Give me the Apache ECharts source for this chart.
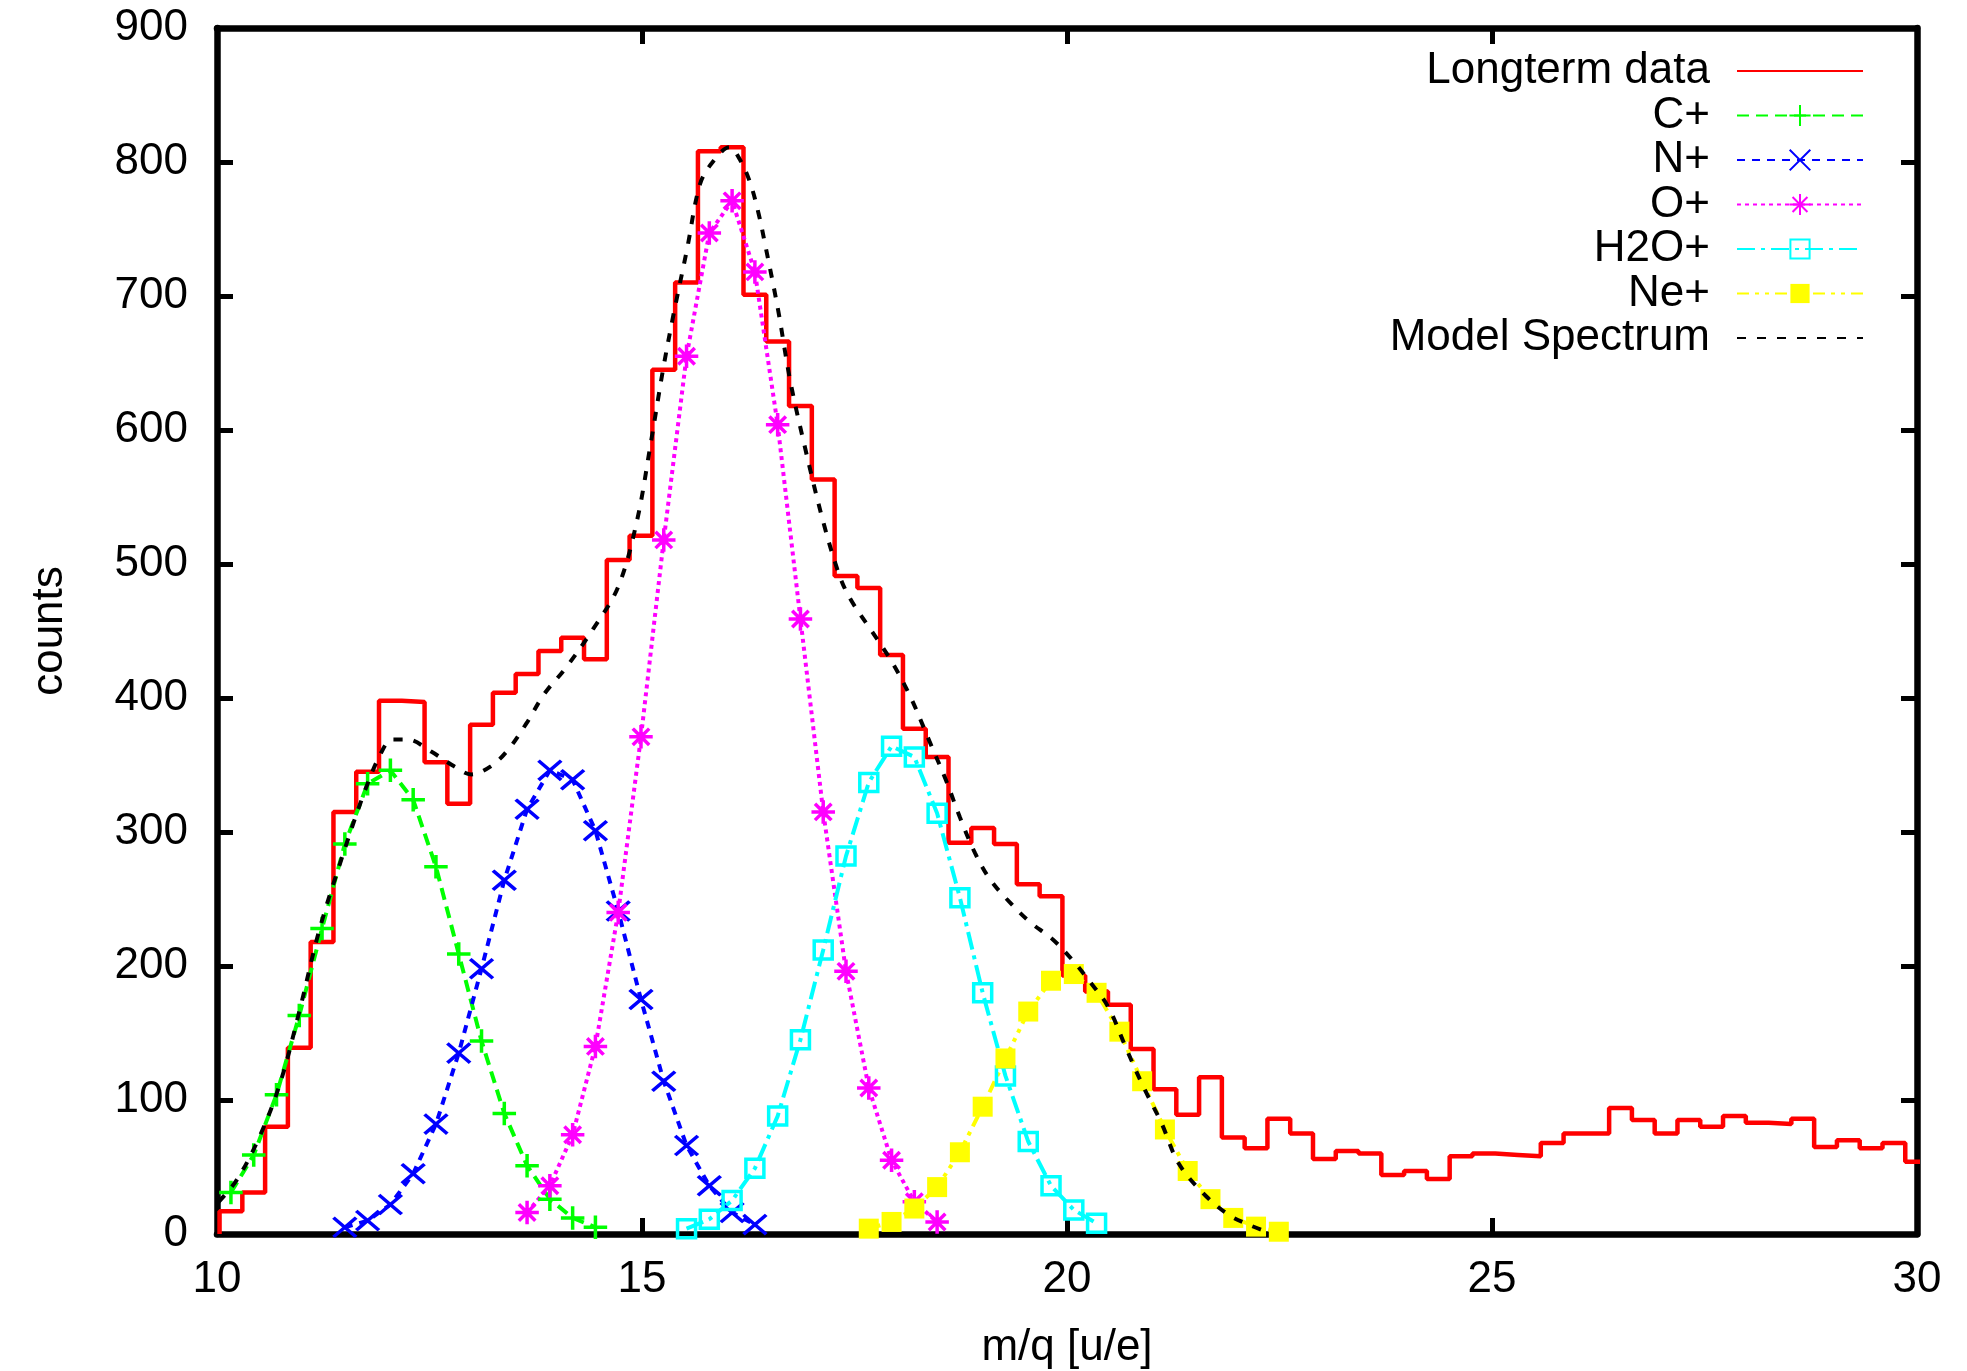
<!DOCTYPE html>
<html>
<head>
<meta charset="utf-8">
<script src="https://cdn.jsdelivr.net/npm/echarts@6/dist/echarts.min.js"></script>
<style>
html,body{margin:0;padding:0;background:#fff;}
#chart{width:1967px;height:1371px;}
</style>
</head>
<body>
<div id="chart"></div>
<script>
// ---- data ----
const binStart = 10.03;   // left edge of first histogram bin (m/q)
const binWidth = 0.268;   // histogram bin width (m/q)

const longterm = [17, 31, 80, 139, 218, 315, 345, 398, 397, 352,
  321, 380, 404, 418, 435, 445, 429, 503, 521, 645,
  710, 808, 811, 701, 666, 618, 563, 491, 482, 432,
  377, 356, 292, 303, 291, 261, 252, 193, 181, 171,
  138, 108, 89, 117, 72, 64, 86, 75, 56, 62,
  60, 44, 47, 41, 58, 60, 59, 58, 68, 75,
  75, 94, 85, 75, 85, 80, 88, 83, 82, 86,
  65, 70, 64, 68, 54];

const cPlusFirstBin = 0;
const cPlus = [31, 59, 104, 163, 228, 291, 336, 346, 324, 274, 209, 144, 90, 51, 26, 12, 5];

const nPlusFirstBin = 5;
const nPlus = [5, 10, 22, 45, 82, 135, 198, 264, 317, 346, 339, 301, 241, 175, 114, 66, 36, 16, 7];

const oPlusFirstBin = 13;
const oPlus = [16, 36, 74, 140, 240, 371, 518, 655, 747, 771, 718, 604, 459, 315, 196, 109, 55, 24, 9];

const h2oPlusFirstBin = 20;
const h2oPlus = [4, 11, 25, 49, 88, 145, 212, 282, 337, 364, 356, 314, 251, 180, 118, 69, 36, 18, 8];

const nePlusFirstBin = 28;
const nePlus = [4, 9, 19, 35, 61, 95, 131, 166, 189, 194, 180, 151, 114, 78, 47, 26, 12, 5.5, 1.7];

const modelX = [10.02, 10.24, 10.51, 10.75, 10.98, 11.2, 11.45, 11.73, 11.93, 12.06,
  12.24, 12.52, 12.79, 12.99, 13.22, 13.42, 13.64, 13.85, 14.11, 14.43,
  14.72, 14.94, 15.1, 15.25, 15.37, 15.53, 15.68, 15.82, 16.03, 16.15,
  16.27, 16.37, 16.45, 16.6, 16.74, 16.91, 17.13, 17.32, 17.45, 17.68,
  17.92, 18.15, 18.38, 18.58, 18.74, 18.92, 19.09, 19.29, 19.56, 19.83,
  20.07, 20.26, 20.48, 20.7, 20.89, 21.11, 21.32, 21.64, 21.91, 22.15, 22.35];
const modelY = [24, 41, 74, 114, 169, 226, 277, 329, 359, 369,
  369, 360, 349, 343, 349, 361, 381, 403, 423, 452,
  483, 532, 589, 646, 686, 735, 783, 799, 811, 802,
  785, 762, 738, 690, 638, 589, 532, 492, 474, 452,
  429, 402, 368, 338, 311, 284, 265, 250, 233, 220,
  204, 189, 170, 138, 111, 83, 52, 28, 14, 6.6, 1.7];

const xTicks = [10, 15, 20, 25, 30];
const yTicks = [0, 100, 200, 300, 400, 500, 600, 700, 800, 900];

const seriesNames = ['Longterm data', 'C+', 'N+', 'O+', 'H2O+', 'Ne+', 'Model Spectrum'];

// ---- build ----
function binEdge(k) { return binStart + binWidth * k; }
function binCenter(k) { return binStart + binWidth * (k + 0.5); }

const histData = [[binEdge(0), 0]];
longterm.forEach((v, k) => histData.push([binEdge(k), v]));
histData.push([binEdge(longterm.length), longterm[longterm.length - 1]]);

function comp(vals, first) { return vals.map((v, i) => [binCenter(first + i), v]); }

const FONT = '"Liberation Sans", Arial, Helvetica, sans-serif';
const plusPath = 'path://M0,5L10,5M5,0L5,10';
const crossPath = 'path://M0,0L10,10M0,10L10,0';
const starPath = 'path://M0,5L10,5M5,0L5,10M1.5,1.5L8.5,8.5M1.5,8.5L8.5,1.5';
const boxPath = 'path://M0,0L10,0M10,0L10,10M10,10L0,10M0,10L0,0';
const noMarkPath = 'path://M0,0L1,1';   // zero-area path: invisible legend marker

function strokeSym(color) {
  return { color: color, borderColor: color, borderWidth: 3.5, borderCap: 'square' };
}
const hiddenSym = { borderWidth: 0, borderColor: 'rgba(0,0,0,0)' };

const chart = echarts.init(document.getElementById('chart'), null, { renderer: 'canvas' });

const axisCommon = {
  axisLine: { show: true, onZero: false, lineStyle: { color: '#000', width: 6.5 } },
  axisTick: { show: true, inside: true, length: 16, lineStyle: { color: '#000', width: 5 } },
  splitLine: { show: false }
};

const option = {
  animation: false,
  backgroundColor: '#fff',
  grid: { left: 217, right: 50, top: 28, bottom: 137, containLabel: false, outerBoundsMode: 'none' },
  xAxis: [
    Object.assign({
      type: 'value', position: 'bottom',
      min: xTicks[0], max: xTicks[xTicks.length - 1], interval: xTicks[1] - xTicks[0],
      axisLabel: { fontSize: 44, fontFamily: FONT, color: '#000', margin: 24 },
      name: 'm/q [u/e]', nameLocation: 'middle', nameGap: 92,
      nameTextStyle: { fontSize: 44, fontFamily: FONT, color: '#000' }
    }, axisCommon),
    Object.assign({
      type: 'value', position: 'top',
      min: xTicks[0], max: xTicks[xTicks.length - 1], interval: xTicks[1] - xTicks[0],
      axisLabel: { show: false }
    }, axisCommon)
  ],
  yAxis: [
    Object.assign({
      type: 'value', position: 'left',
      min: yTicks[0], max: yTicks[yTicks.length - 1], interval: yTicks[1] - yTicks[0],
      axisLabel: { fontSize: 44, fontFamily: FONT, color: '#000', margin: 29 },
      name: 'counts', nameLocation: 'middle', nameGap: 145, nameRotate: 90,
      nameTextStyle: { fontSize: 44, fontFamily: FONT, color: '#000' }
    }, axisCommon),
    Object.assign({
      type: 'value', position: 'right',
      min: yTicks[0], max: yTicks[yTicks.length - 1], interval: yTicks[1] - yTicks[0],
      axisLabel: { show: false }
    }, axisCommon)
  ],
  legend: {
    data: seriesNames,
    orient: 'vertical',
    right: 98, top: 44,
    align: 'right',
    itemWidth: 126, itemHeight: 24, itemGap: 0.5,
    textStyle: { fontSize: 44, fontFamily: FONT, color: '#000', padding: [0, 22, 0, 0], lineHeight: 44 }
  },
  series: [
    {
      name: seriesNames[0], type: 'line', step: 'end',
      symbol: noMarkPath, showSymbol: false,
      data: histData, clip: true, z: 2,
      lineStyle: { color: '#ff0000', width: 4.5 }, itemStyle: Object.assign({ color: '#ff0000' }, hiddenSym)
    },
    {
      name: seriesNames[1], type: 'line', data: comp(cPlus, cPlusFirstBin), z: 3,
      symbol: plusPath, symbolSize: 20, showAllSymbol: true,
      lineStyle: { color: '#00ff00', width: 4, type: [12, 7] }, itemStyle: strokeSym('#00ff00')
    },
    {
      name: seriesNames[2], type: 'line', data: comp(nPlus, nPlusFirstBin), z: 3,
      symbol: crossPath, symbolSize: [20, 17], showAllSymbol: true,
      lineStyle: { color: '#0000ff', width: 4, type: [8, 7] }, itemStyle: strokeSym('#0000ff')
    },
    {
      name: seriesNames[3], type: 'line', data: comp(oPlus, oPlusFirstBin), z: 3,
      symbol: starPath, symbolSize: 20, showAllSymbol: true,
      lineStyle: { color: '#ff00ff', width: 4, type: [4, 4] }, itemStyle: strokeSym('#ff00ff')
    },
    {
      name: seriesNames[4], type: 'line', data: comp(h2oPlus, h2oPlusFirstBin), z: 3,
      symbol: boxPath, symbolSize: 18, showAllSymbol: true,
      lineStyle: { color: '#00ffff', width: 4, type: [18, 6, 4, 6] }, itemStyle: strokeSym('#00ffff')
    },
    {
      name: seriesNames[5], type: 'line', data: comp(nePlus, nePlusFirstBin), z: 3,
      symbol: 'rect', symbolSize: 20, showAllSymbol: true,
      lineStyle: { color: '#ffff00', width: 4, type: [12, 6, 4, 6, 4, 6] }, itemStyle: { color: '#ffff00' }
    },
    {
      name: seriesNames[6], type: 'line', symbol: noMarkPath, showSymbol: false, smooth: 0.35, z: 4,
      data: modelX.map((x, i) => [x, modelY[i]]),
      lineStyle: { color: '#000', width: 4, type: [9, 11] }, itemStyle: Object.assign({ color: '#000' }, hiddenSym)
    }
  ]
};
chart.setOption(option);
</script>
</body>
</html>
